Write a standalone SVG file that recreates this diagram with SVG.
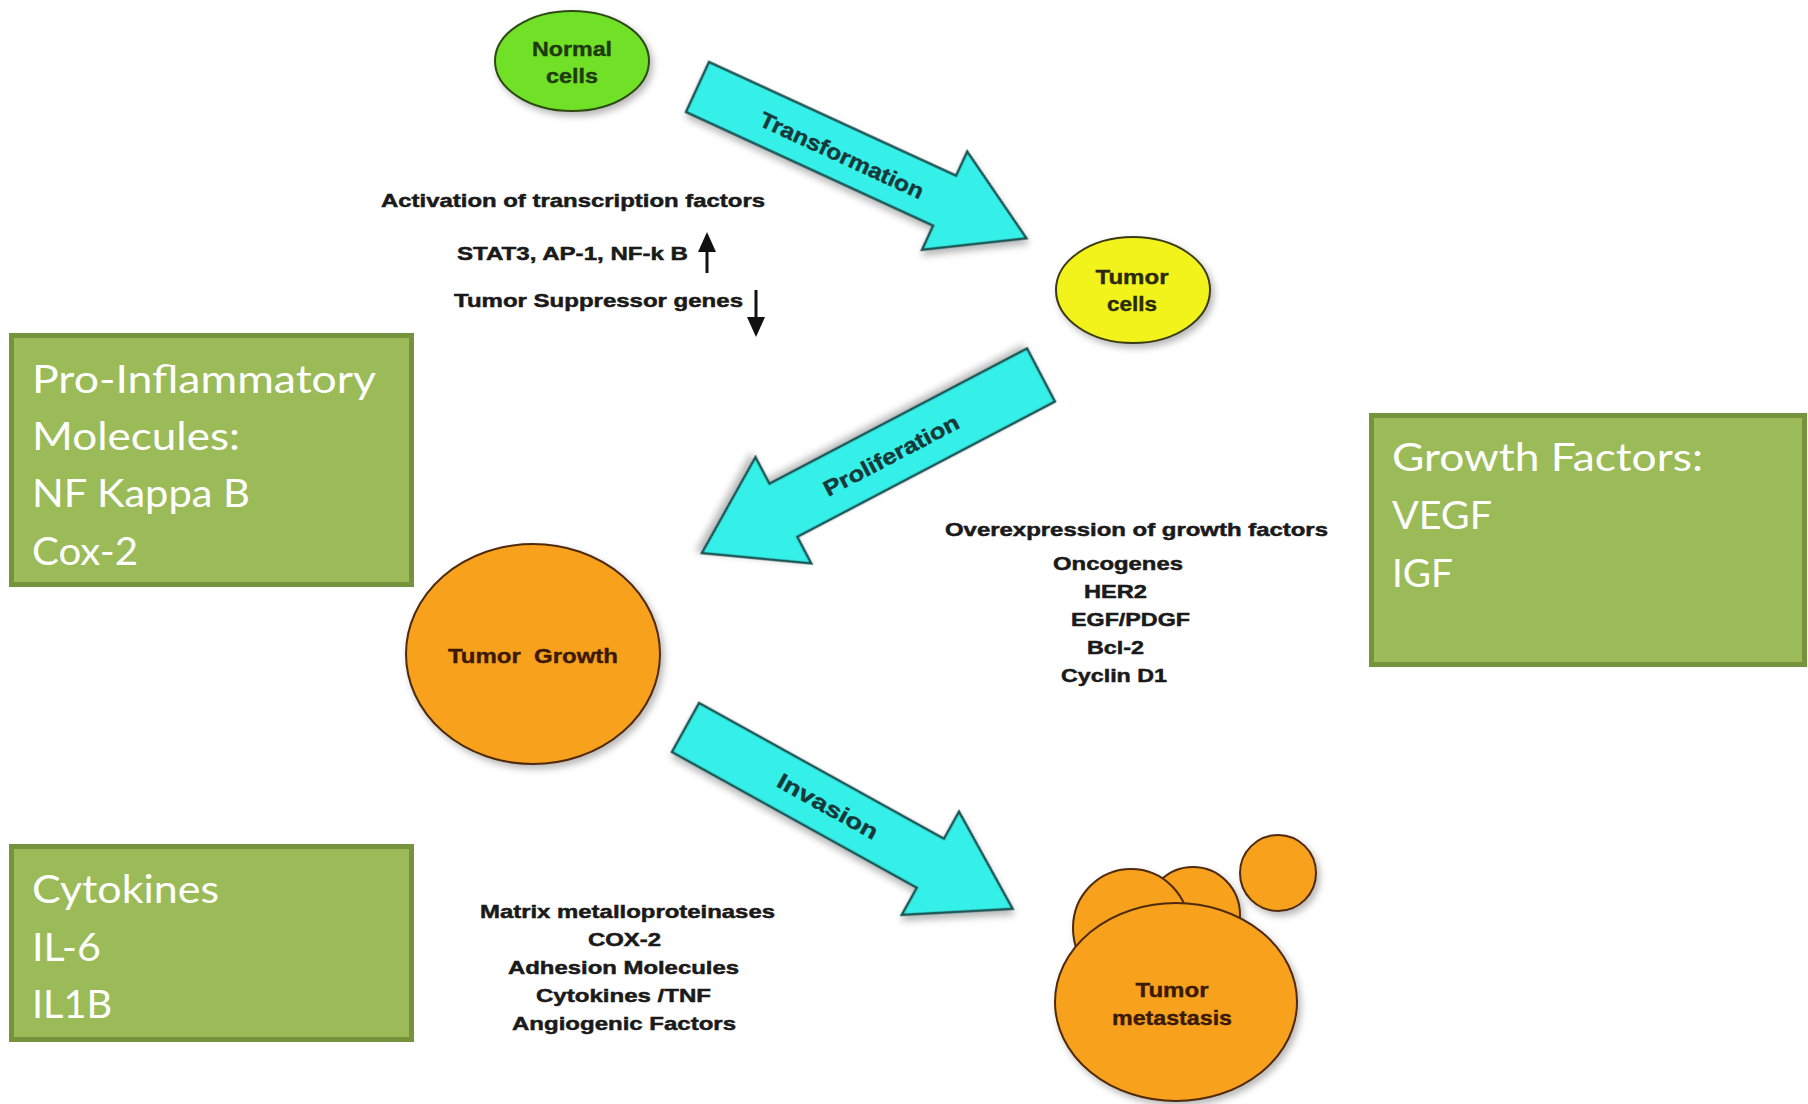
<svg xmlns="http://www.w3.org/2000/svg" width="1808" height="1104" viewBox="0 0 1808 1104">
<style>
.box{fill:#9BBB59;stroke:#76923C;stroke-width:5}
.boxt{font-family:Lato,"Open Sans","Liberation Sans",sans-serif;font-size:38px;fill:#ffffff}
.arr{fill:#34F0E8;stroke:#1D5252;stroke-width:2.5;stroke-linejoin:miter}
.arrt{font-family:"Liberation Sans",Arial,sans-serif;font-weight:bold;font-size:22px;fill:#163838;stroke:#163838;stroke-width:0.4;text-anchor:middle}
.lbl{font-family:"Liberation Sans",Arial,sans-serif;font-weight:bold;font-size:19px;fill:#1a1a1a;stroke:#1a1a1a;stroke-width:0.5}
.nt{font-family:"Liberation Sans",Arial,sans-serif;font-weight:bold;font-size:21px;text-anchor:middle;stroke-width:0.4}
.org{fill:#F8A11C;stroke:#4F2A0A;stroke-width:2}
</style>
<defs>
<filter id="sh" x="-20%" y="-20%" width="150%" height="150%">
<feDropShadow dx="3" dy="4" stdDeviation="3.5" flood-color="#000" flood-opacity="0.28"/>
</filter>
</defs>
<rect width="1808" height="1104" fill="#ffffff"/>

<g id="connectors">
<g id="arrow-transformation" transform="translate(697.5,87) rotate(24.7)">
<polygon class="arr" filter="url(#sh)" points="0,-27.5 272,-27.5 272,-54 362,0 272,54 272,27.5 0,27.5"/>
</g>
<g transform="translate(842,155) rotate(24.7)"><text class="arrt" x="0" y="8" textLength="178" lengthAdjust="spacingAndGlyphs">Transformation</text></g>

<g id="arrow-proliferation" transform="translate(1041,375) rotate(152.3)">
<polygon class="arr" filter="url(#sh)" points="0,-30 291,-30 291,-60 383,0 291,60 291,30 0,30"/>
</g>
<g transform="translate(891,455) rotate(-27.7)"><text class="arrt" x="0" y="8" textLength="150" lengthAdjust="spacingAndGlyphs">Proliferation</text></g>

<g id="arrow-invasion" transform="translate(685.5,727.5) rotate(29)">
<polygon class="arr" filter="url(#sh)" points="0,-28 280,-28 280,-59 374,0 280,59 280,28 0,28"/>
</g>
<g transform="translate(828,806) rotate(29)"><text class="arrt" x="0" y="8" textLength="112" lengthAdjust="spacingAndGlyphs">Invasion</text></g>
</g>

<g id="node-normal-cells">
<ellipse cx="572" cy="61" rx="77" ry="50" fill="#70E126" stroke="#2D4A12" stroke-width="2" filter="url(#sh)"/>
<text class="nt" x="572" y="56" fill="#1F3A0E" stroke="#1F3A0E" textLength="80" lengthAdjust="spacingAndGlyphs">Normal</text>
<text class="nt" x="572" y="83" fill="#1F3A0E" stroke="#1F3A0E" textLength="52" lengthAdjust="spacingAndGlyphs">cells</text>
</g>

<g id="node-tumor-cells">
<ellipse cx="1133" cy="290" rx="77" ry="53" fill="#F3F31C" stroke="#3A3A14" stroke-width="2" filter="url(#sh)"/>
<text class="nt" x="1132" y="284" fill="#2A2A08" stroke="#2A2A08" textLength="73" lengthAdjust="spacingAndGlyphs">Tumor</text>
<text class="nt" x="1132" y="311" fill="#2A2A08" stroke="#2A2A08" textLength="50" lengthAdjust="spacingAndGlyphs">cells</text>
</g>

<g id="node-tumor-growth">
<ellipse class="org" cx="533" cy="654" rx="127" ry="110" filter="url(#sh)"/>
<text class="nt" x="533" y="663" fill="#3A1A02" stroke="#3A1A02" textLength="170" lengthAdjust="spacingAndGlyphs" xml:space="preserve">Tumor  Growth</text>
</g>

<g id="node-tumor-metastasis">
<g filter="url(#sh)">
<ellipse class="org" cx="1193" cy="915" rx="47" ry="48"/>
<ellipse class="org" cx="1131" cy="928" rx="58" ry="59"/>
<ellipse class="org" cx="1278" cy="873" rx="38" ry="38"/>
<ellipse class="org" cx="1176" cy="1002" rx="121" ry="99"/>
</g>
<text class="nt" x="1172" y="997" fill="#3A1A02" stroke="#3A1A02" textLength="73" lengthAdjust="spacingAndGlyphs">Tumor</text>
<text class="nt" x="1172" y="1025" fill="#3A1A02" stroke="#3A1A02" textLength="120" lengthAdjust="spacingAndGlyphs">metastasis</text>
</g>

<g id="text-transcription">
<text class="lbl" x="381" y="207" textLength="384" lengthAdjust="spacingAndGlyphs">Activation of transcription factors</text>
<text class="lbl" x="457" y="260" textLength="231" lengthAdjust="spacingAndGlyphs">STAT3, AP-1, NF-k B</text>
<text class="lbl" x="454" y="307" textLength="289" lengthAdjust="spacingAndGlyphs">Tumor Suppressor genes</text>
<line x1="707" y1="273" x2="707" y2="248" stroke="#111" stroke-width="3"/>
<polygon points="698,252 716,252 707,232" fill="#111"/>
<line x1="756" y1="290" x2="756" y2="320" stroke="#111" stroke-width="3"/>
<polygon points="747,317 765,317 756,337" fill="#111"/>
</g>

<g id="text-growth-factors">
<text class="lbl" x="945" y="536" textLength="383" lengthAdjust="spacingAndGlyphs">Overexpression of growth factors</text>
<text class="lbl" x="1053" y="570" textLength="130" lengthAdjust="spacingAndGlyphs">Oncogenes</text>
<text class="lbl" x="1084" y="598" textLength="63" lengthAdjust="spacingAndGlyphs">HER2</text>
<text class="lbl" x="1071" y="626" textLength="119" lengthAdjust="spacingAndGlyphs">EGF/PDGF</text>
<text class="lbl" x="1087" y="654" textLength="57" lengthAdjust="spacingAndGlyphs">Bcl-2</text>
<text class="lbl" x="1061" y="682" textLength="106" lengthAdjust="spacingAndGlyphs">Cyclin D1</text>
</g>

<g id="text-invasion-factors">
<text class="lbl" x="480" y="918" textLength="295" lengthAdjust="spacingAndGlyphs">Matrix metalloproteinases</text>
<text class="lbl" x="588" y="946" textLength="73" lengthAdjust="spacingAndGlyphs">COX-2</text>
<text class="lbl" x="508" y="974" textLength="231" lengthAdjust="spacingAndGlyphs">Adhesion Molecules</text>
<text class="lbl" x="536" y="1002" textLength="175" lengthAdjust="spacingAndGlyphs">Cytokines /TNF</text>
<text class="lbl" x="512" y="1030" textLength="224" lengthAdjust="spacingAndGlyphs">Angiogenic Factors</text>
</g>

<g id="box-pro-inflammatory">
<rect class="box" x="11.5" y="335.5" width="400" height="249"/>
<text class="boxt" x="32" y="393" textLength="344" lengthAdjust="spacingAndGlyphs">Pro-Inflammatory</text>
<text class="boxt" x="32" y="450" textLength="208" lengthAdjust="spacingAndGlyphs">Molecules:</text>
<text class="boxt" x="32" y="507" textLength="218" lengthAdjust="spacingAndGlyphs">NF Kappa B</text>
<text class="boxt" x="32" y="565" textLength="106" lengthAdjust="spacingAndGlyphs">Cox-2</text>
</g>

<g id="box-growth-factors">
<rect class="box" x="1371.5" y="415.5" width="433" height="249"/>
<text class="boxt" x="1392" y="471" textLength="311" lengthAdjust="spacingAndGlyphs">Growth Factors:</text>
<text class="boxt" x="1392" y="529" textLength="100" lengthAdjust="spacingAndGlyphs">VEGF</text>
<text class="boxt" x="1392" y="587" textLength="61" lengthAdjust="spacingAndGlyphs">IGF</text>
</g>

<g id="box-cytokines">
<rect class="box" x="11.5" y="846.5" width="400" height="193"/>
<text class="boxt" x="32" y="903" textLength="187" lengthAdjust="spacingAndGlyphs">Cytokines</text>
<text class="boxt" x="32" y="961" textLength="69" lengthAdjust="spacingAndGlyphs">IL-6</text>
<text class="boxt" x="32" y="1018" textLength="80" lengthAdjust="spacingAndGlyphs">IL1B</text>
</g>
</svg>
